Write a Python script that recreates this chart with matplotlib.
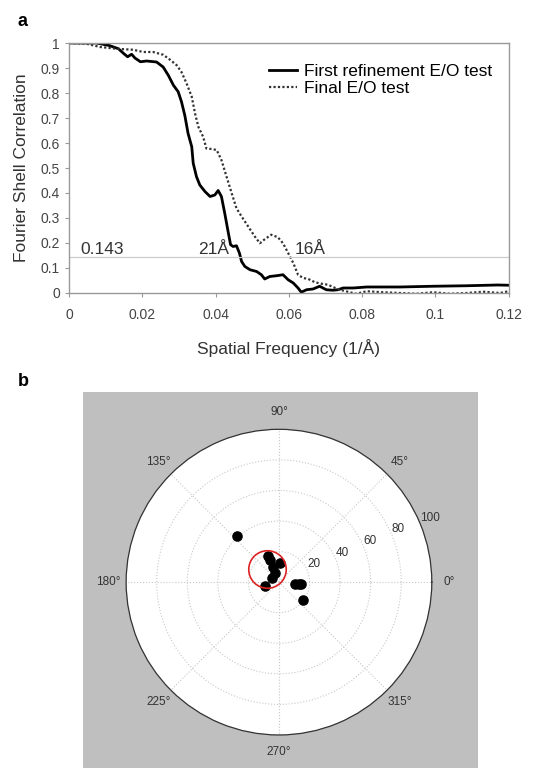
import matplotlib
matplotlib.use("Agg")
import matplotlib.pyplot as plt
import numpy as np
from matplotlib.patches import Rectangle

plt.rcParams['font.family'] = ['Liberation Sans', 'DejaVu Sans']

# panel a: FSC curves
x_first = [0.0, 0.0075, 0.011, 0.0135, 0.015, 0.016, 0.0171, 0.018, 0.0195, 0.0212, 0.0239,
           0.0257, 0.0271, 0.0285, 0.0298, 0.0307, 0.0316, 0.0325, 0.0335, 0.0339, 0.0348,
           0.0357, 0.0371, 0.0385, 0.0398, 0.0407, 0.0416, 0.0425, 0.0435, 0.0441, 0.0448,
           0.0457, 0.0465, 0.0471, 0.048, 0.0494, 0.0512, 0.0525, 0.0534, 0.0548, 0.0566,
           0.0584, 0.0598, 0.0612, 0.0625, 0.0634, 0.0648, 0.0666, 0.0684, 0.0702, 0.072,
           0.0734, 0.0748, 0.0776, 0.0812, 0.0903, 0.0994, 0.1085, 0.117, 0.12]
y_first = [1.0, 1.0, 0.99, 0.977, 0.957, 0.945, 0.955, 0.94, 0.925, 0.928, 0.924,
           0.904, 0.871, 0.831, 0.805, 0.765, 0.711, 0.638, 0.585, 0.519, 0.465,
           0.432, 0.406, 0.386, 0.392, 0.41, 0.386, 0.319, 0.239, 0.193, 0.186,
           0.189, 0.16, 0.126, 0.106, 0.093, 0.086, 0.073, 0.056, 0.066, 0.069,
           0.073, 0.053, 0.04, 0.02, 0.003, 0.013, 0.016, 0.027, 0.013, 0.011,
           0.013, 0.02, 0.02, 0.024, 0.024, 0.027, 0.029, 0.032, 0.031]

x_final = [0.0, 0.0048, 0.0085, 0.013, 0.0175, 0.0203, 0.023, 0.0257, 0.0275, 0.0294,
           0.0307, 0.0321, 0.0335, 0.0344, 0.0353, 0.0366, 0.0375, 0.0389, 0.0403, 0.0416,
           0.043, 0.0444, 0.0457, 0.0471, 0.0489, 0.0507, 0.0521, 0.0534, 0.0552, 0.057,
           0.0584, 0.0598, 0.0612, 0.0625, 0.0639, 0.0653, 0.0671, 0.0689, 0.0707, 0.072,
           0.0739, 0.0766, 0.0784, 0.0812, 0.0857, 0.0903, 0.0948, 0.0994, 0.104, 0.1085,
           0.113, 0.1176, 0.12]
y_final = [1.0, 0.997, 0.984, 0.977, 0.973, 0.964, 0.964, 0.953, 0.934, 0.911,
           0.884, 0.838, 0.785, 0.718, 0.665, 0.625, 0.578, 0.576, 0.572, 0.532,
           0.465, 0.399, 0.339, 0.306, 0.266, 0.226, 0.199, 0.215, 0.233, 0.223,
           0.199, 0.16, 0.12, 0.073, 0.06, 0.056, 0.043, 0.037, 0.033, 0.024,
           0.013, 0.003, -0.003, 0.007, 0.003, 0.0, -0.003, 0.003, -0.003, 0.0,
           0.005, 0.0, 0.007]

threshold = 0.143

# panel b: polar scatter (angle in degrees, radius)
theta_deg = [132, 113, 112, 88, 112, 116, 147, 197, 354, 355, 356, 323]
radius = [40.6, 18.3, 15.3, 12.4, 10.6, 6.5, 5.2, 9.4, 10.3, 13.1, 14.6, 19.7]
ring_theta_deg = 132
ring_radius = 11.7

fig = plt.figure(figsize=(5.43, 7.68), dpi=100)

# ---- panel a ----
ax = fig.add_axes([0.127, 0.6185, 0.810, 0.3255])
ax.plot(x_first, y_first, color='black', lw=2.0, label='First refinement E/O test')
ax.plot(x_final, y_final, color='#333333', lw=1.6, ls=(0, (1, 1)), label='Final E/O test')
ax.axhline(threshold, color='#cccccc', lw=0.9)
ax.set_xlim(0, 0.12)
ax.set_ylim(0, 1)
ax.set_xticks(np.arange(0, 0.121, 0.02))
ax.set_xticklabels(['0', '0.02', '0.04', '0.06', '0.08', '0.1', '0.12'])
ax.set_yticks(np.arange(0, 1.01, 0.1))
ax.set_yticklabels(['0', '0.1', '0.2', '0.3', '0.4', '0.5', '0.6', '0.7', '0.8', '0.9', '1'])
ax.tick_params(axis='both', labelsize=10, labelcolor='#444444', color='#999999',
               length=3, width=0.8)
ax.tick_params(axis='x', pad=8)
for s in ax.spines.values():
    s.set_color('#999999')
    s.set_linewidth(1.0)
ax.set_ylabel('Fourier Shell Correlation', fontsize=12.5, color='#333333', labelpad=8)
ax.set_xlabel('Spatial Frequency (1/Å)', fontsize=12.5, color='#333333', labelpad=12)
ax.text(0.003, 0.155, '0.143', fontsize=12.5, color='#333333')
ax.text(0.0352, 0.155, '21Å', fontsize=12.5, color='#333333')
ax.text(0.0615, 0.155, '16Å', fontsize=12.5, color='#333333')
ax.legend(loc='upper right', bbox_to_anchor=(0.99, 0.965), frameon=False, fontsize=12.5,
          handlelength=1.6, handletextpad=0.4, labelspacing=0.1, borderpad=0.2)
fig.text(0.033, 0.972, 'a', fontsize=13, fontweight='bold', va='center')

# ---- panel b ----
fig.text(0.033, 0.503, 'b', fontsize=13, fontweight='bold', va='center')
fig.add_artist(Rectangle((83 / 543, 0), (478 - 83) / 543, (768 - 392) / 768,
                         transform=fig.transFigure, facecolor='#bfbfbf',
                         edgecolor='none', zorder=-5))
pax = fig.add_axes([0.232, 0.043, 0.5635, 0.398], projection='polar')
pax.set_zorder(2)
pax.set_facecolor('white')
pax.plot(np.radians(theta_deg), radius, 'o', color='black', ms=6.6, zorder=3)
pax.plot(np.radians(ring_theta_deg), ring_radius, 'o', mfc='none', mec='#dd2222',
         mew=1.2, ms=27, zorder=4)
pax.set_ylim(0, 100)
pax.set_yticks([20, 40, 60, 80, 100])
pax.set_yticklabels(['20', '40', '60', '80', '100'])
pax.set_rlabel_position(22.5)
pax.set_thetagrids(np.arange(0, 360, 45),
                   ['0°', '45°', '90°', '135°', '180°', '225°', '270°', '315°'])
pax.tick_params(axis='y', labelsize=8.5, labelcolor='#333333')
pax.tick_params(axis='x', labelsize=8.5, labelcolor='#333333', pad=2)
pax.grid(True, color='#c8c8c8', ls=':', lw=0.8)
pax.spines['polar'].set_color('#333333')
pax.spines['polar'].set_linewidth(0.9)

fig.savefig('out.png', dpi=100)
